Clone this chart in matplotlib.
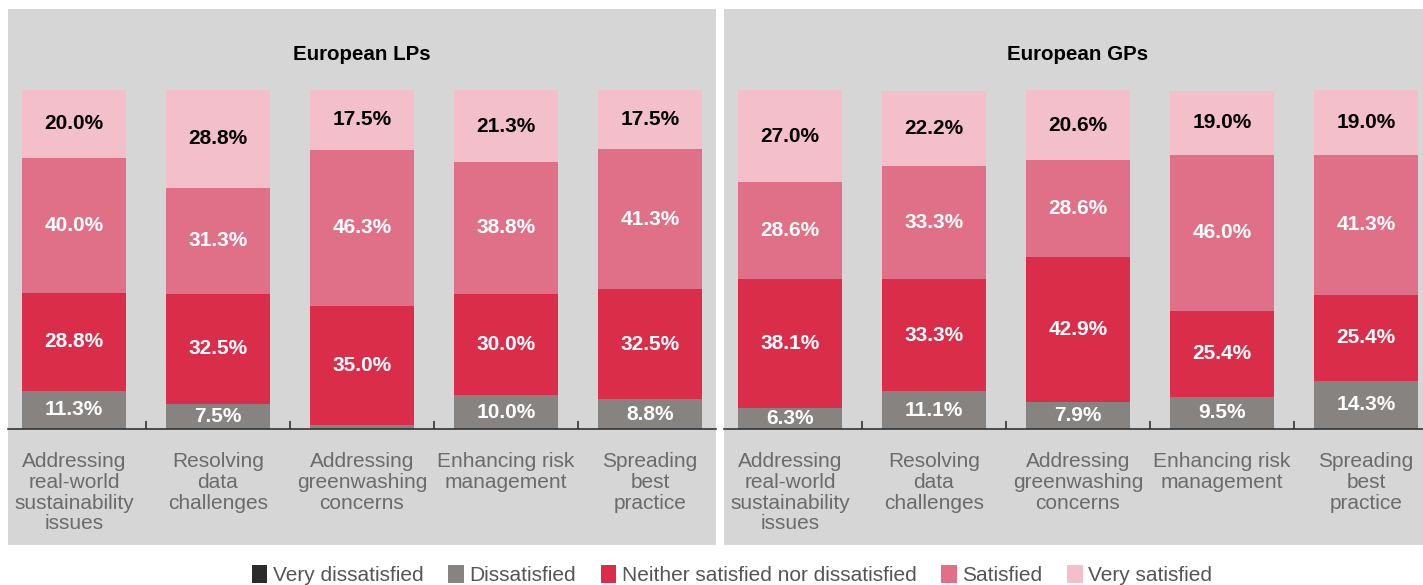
import numpy as np
import matplotlib.pyplot as plt
from matplotlib.patches import Rectangle, Patch

plt.rcParams['font.family'] = ['Liberation Sans', 'DejaVu Sans']

categories = ['Addressing\nreal-world\nsustainability\nissues',
              'Resolving\ndata\nchallenges',
              'Addressing\ngreenwashing\nconcerns',
              'Enhancing risk\nmanagement',
              'Spreading\nbest\npractice']
levels = ['Very dissatisfied', 'Dissatisfied', 'Neither satisfied nor dissatisfied',
          'Satisfied', 'Very satisfied']
colors = ['#2b2b2b', '#878381', '#d92d4a', '#e07088', '#f2bfca']
text_colors = ['white', 'white', 'white', 'white', 'black']

# values per level, order = categories
lp_very_dis = [0.0, 0.0, 0.0, 0.0, 0.0]
lp_dis = [11.3, 7.5, 1.2, 10.0, 8.8]
lp_neither = [28.8, 32.5, 35.0, 30.0, 32.5]
lp_sat = [40.0, 31.3, 46.3, 38.8, 41.3]
lp_very_sat = [20.0, 28.8, 17.5, 21.3, 17.5]

gp_very_dis = [0.0, 0.0, 0.0, 0.0, 0.0]
gp_dis = [6.3, 11.1, 7.9, 9.5, 14.3]
gp_neither = [38.1, 33.3, 42.9, 25.4, 25.4]
gp_sat = [28.6, 33.3, 28.6, 46.0, 41.3]
gp_very_sat = [27.0, 22.2, 20.6, 19.0, 19.0]

panels = [('European LPs', [lp_very_dis, lp_dis, lp_neither, lp_sat, lp_very_sat]),
          ('European GPs', [gp_very_dis, gp_dis, gp_neither, gp_sat, gp_very_sat])]

W, H = 1423, 585
fig = plt.figure(figsize=(W / 100, H / 100), dpi=100)

panel_left = [8, 724]
panel_w = 708
base_y = 429
top_y = 9
bottom_y = 545

for (title, series), px in zip(panels, panel_left):
    # gray panel background
    fig.add_artist(Rectangle((px / W, 1 - bottom_y / H), panel_w / W, (bottom_y - top_y) / H,
                             transform=fig.transFigure, facecolor='#d6d6d6',
                             edgecolor='none', zorder=-5))
    ax = fig.add_axes([px / W, 1 - base_y / H, panel_w / W, (base_y - top_y) / H])
    ax.set_zorder(1)
    ax.patch.set_visible(False)
    x = np.arange(len(categories))
    bottom = np.zeros(len(categories))
    for vals, col, tc in zip(series, colors, text_colors):
        vals = np.array(vals)
        ax.bar(x, vals, width=0.72, bottom=bottom, color=col, zorder=2)
        for xi, v, b in zip(x, vals, bottom):
            if v >= 5:
                ax.text(xi, b + v / 2, f'{v:.1f}%', ha='center', va='center',
                        color=tc, fontsize=15, fontweight='bold', zorder=3)
        bottom += vals
    ax.set_xlim(-0.458, 4.458)
    ax.set_ylim(0, 124)
    for s in ['top', 'right', 'left']:
        ax.spines[s].set_visible(False)
    ax.spines['bottom'].set_color('#333333')
    ax.spines['bottom'].set_linewidth(1.2)
    ax.set_yticks([])
    ax.set_xticks(x)
    ax.set_xticklabels(categories, fontsize=15, color='#6b6b6b', linespacing=1.12)
    ax.tick_params(axis='x', which='major', length=0, pad=16.5)
    ax.set_xticks(x[:-1] + 0.5, minor=True)
    ax.tick_params(axis='x', which='minor', direction='in', length=6, width=1.2, color='#333333')
    ax.text(0.5, (base_y - 55) / (base_y - top_y), title, transform=ax.transAxes,
            ha='center', va='center', fontsize=14.8, fontweight='bold', color='black')

handles = [Patch(facecolor=c, edgecolor='none') for c in colors]
fig.legend(handles, levels, loc='center', bbox_to_anchor=(732 / W, 1 - 575 / H), ncol=5,
           frameon=False, fontsize=15, handlelength=0.75, handleheight=0.95,
           handletextpad=0.25, columnspacing=1.2, labelcolor='#555555')

fig.savefig('out.png', dpi=100)
